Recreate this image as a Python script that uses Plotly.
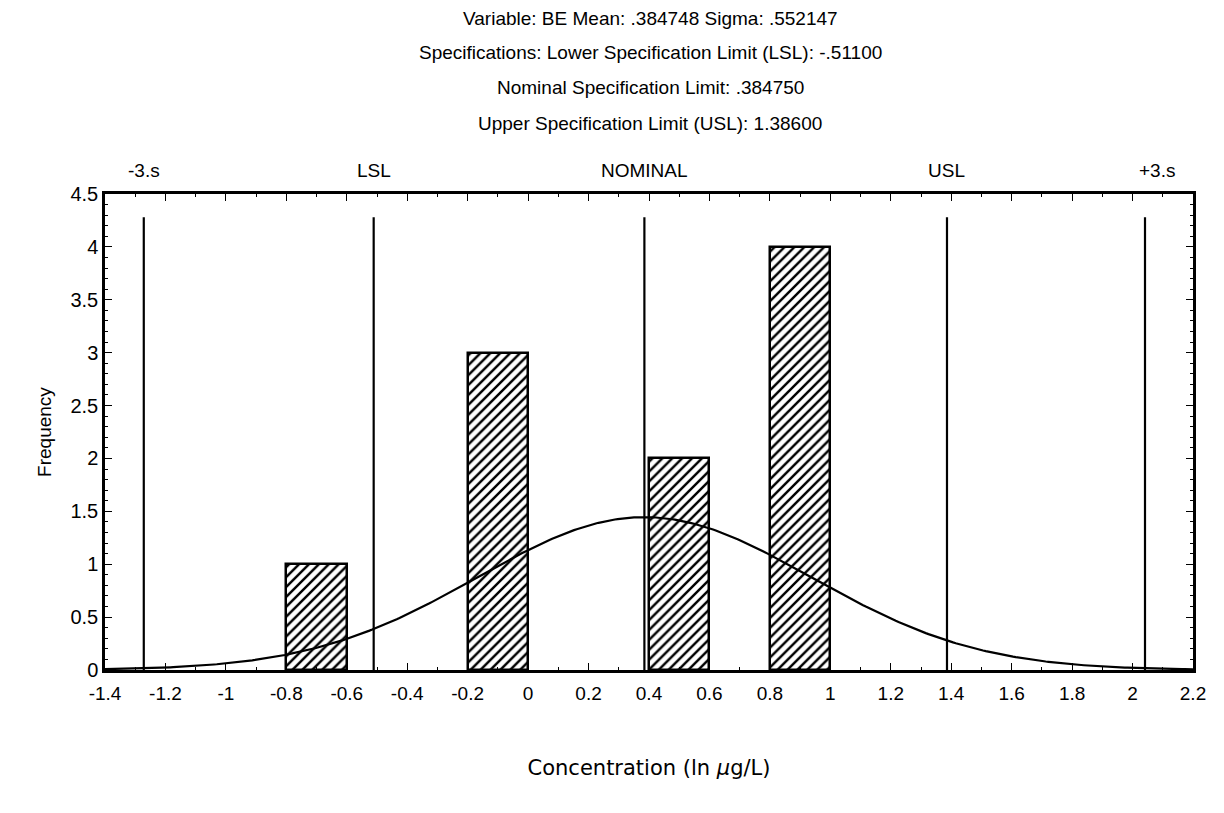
import numpy as np
import plotly.graph_objects as go

# Data
bin_centers = [-0.7, -0.1, 0.5, 0.9]
frequencies = [1, 3, 2, 4]
bin_width = 0.2
mean = 0.384748
sigma = 0.552147
lsl = -0.511
nominal = 0.38475
usl = 1.386
n_obs = 10
ref_labels = ["-3.s", "LSL", "NOMINAL", "USL", "+3.s"]
ref_values = [mean - 3 * sigma, lsl, nominal, usl, mean + 3 * sigma]
ref_line_top = 4.28
x_ticks = [-1.4, -1.2, -1, -0.8, -0.6, -0.4, -0.2, 0, 0.2, 0.4, 0.6, 0.8, 1, 1.2, 1.4, 1.6, 1.8, 2, 2.2]
y_ticks = [0, 0.5, 1, 1.5, 2, 2.5, 3, 3.5, 4, 4.5]
titles = ["Variable: BE Mean: .384748 Sigma: .552147",
          "Specifications: Lower Specification Limit (LSL): -.51100",
          "Nominal Specification Limit: .384750",
          "Upper Specification Limit (USL): 1.38600"]

# fitted normal curve from the stated mean / sigma
xc = np.linspace(-1.4, 2.2, 400)
yc = n_obs * bin_width * np.exp(-0.5 * ((xc - mean) / sigma) ** 2) / (sigma * np.sqrt(2 * np.pi))

H = 813
top_m, bot_m = 194, 143
plot_h = H - top_m - bot_m

fig = go.Figure()
fig.add_trace(go.Bar(
    x=bin_centers, y=frequencies, width=bin_width,
    marker=dict(color="white", line=dict(color="black", width=2.5),
                pattern=dict(shape="/", fgcolor="black", bgcolor="white", fgopacity=1,
                             size=7, solidity=0.35)),
    showlegend=False,
))
fig.add_trace(go.Scatter(x=xc, y=yc, mode="lines", line=dict(color="black", width=2.2), showlegend=False))
for v in ref_values:
    fig.add_trace(go.Scatter(x=[v, v], y=[0, ref_line_top], mode="lines",
                             line=dict(color="black", width=2.2), showlegend=False))

for lab, v in zip(ref_labels, ref_values):
    fig.add_annotation(x=v, y=(H - bot_m - 171) / plot_h, xref="x", yref="paper",
                       xanchor="center", yanchor="middle", text=lab, showarrow=False,
                       xshift=(12 if lab == "+3.s" else 0),
                       font=dict(size=19, color="black", family="Liberation Sans"))

for i, t in enumerate(titles):
    ypx = 18 + 35 * i
    fig.add_annotation(x=0.5, xref="paper", y=(H - bot_m - ypx) / plot_h, yref="paper",
                       xanchor="center", yanchor="middle", xshift=(650 - (105 + 1193) / 2),
                       text=t, showarrow=False,
                       font=dict(size=19, color="black", family="Liberation Sans"))

fig.update_layout(
    width=1224, height=813,
    margin=dict(l=105, r=31, t=top_m, b=bot_m),
    plot_bgcolor="white", paper_bgcolor="white",
    bargap=0,
    font=dict(family="Liberation Sans", size=19, color="black"),
    xaxis=dict(range=[-1.4, 2.2], tickvals=x_ticks, ticktext=[("%g" % v) for v in x_ticks],
               showgrid=False, zeroline=False, showline=True, linecolor="black", linewidth=2.5,
               mirror="ticks", ticks="inside", ticklen=7, tickcolor="black",
               minor=dict(ticks="inside", ticklen=3, dtick=0.1, tickcolor="black"),
               ticklabelstandoff=4,
               title=dict(text="Concentration (ln <i>μ</i>g/L)", standoff=58,
                          font=dict(size=21, family="DejaVu Sans")),
               tickfont=dict(size=19)),
    yaxis=dict(range=[0, 4.5], tickvals=y_ticks, ticktext=[("%g" % v) for v in y_ticks],
               showgrid=False, zeroline=False, showline=True, linecolor="black", linewidth=2.5,
               mirror="ticks", ticks="inside", ticklen=7, tickcolor="black",
               minor=dict(ticks="inside", ticklen=3, dtick=0.1, tickcolor="black"),
               title=dict(text="Frequency", standoff=14, font=dict(size=19)),
               tickfont=dict(size=20)),
)

fig.write_html("out.html")
